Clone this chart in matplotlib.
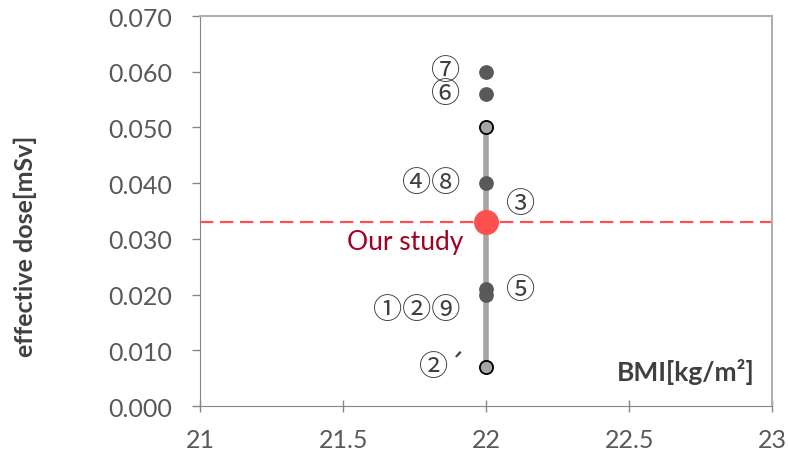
import matplotlib.pyplot as plt

# reference studies (dark points) and range end points (light points)
study_x = [22, 22, 22, 22, 22]
study_dose = [0.060, 0.056, 0.040, 0.021, 0.020]
range_x = [22, 22]
range_dose = [0.007, 0.050]
our_x = 22
our_dose = 0.033

labels = ['⑦', '⑥', '④⑧', '③', '⑤', '①②⑨', '②´']
label_x = [21.91, 21.91, 21.91, 22.12, 22.12, 21.91, 21.93]
label_y = [0.0602, 0.0560, 0.0400, 0.0363, 0.0208, 0.0172, 0.0070]
label_ha = ['right', 'right', 'right', 'center', 'center', 'right', 'right']

xticks = [21, 21.5, 22, 22.5, 23]
yticks = [0.0, 0.01, 0.02, 0.03, 0.04, 0.05, 0.06, 0.07]

plt.rcParams['font.family'] = ['Lato', 'DejaVu Sans']
tick_col = '#595959'

fig = plt.figure(figsize=(7.88, 4.6), dpi=100)
ax = fig.add_axes([0.254, 0.115, 0.726, 0.848])

ax.axhline(our_dose, color='#ff5050', lw=1.6, ls=(0, (6, 3)), zorder=1)
ax.plot(range_x, range_dose, color='#a6a6a6', lw=4, zorder=2)
ax.scatter(study_x, study_dose, s=92, color='#595959', zorder=3)
ax.scatter(range_x, range_dose, s=90, color='#a6a6a6', edgecolor='black', linewidth=1.3, zorder=4)
ax.scatter([our_x], [our_dose], s=290, color='#ff5050', zorder=5)

for t, x, y, ha in zip(labels, label_x, label_y, label_ha):
    ax.text(x, y, t, ha=ha, va='center', fontsize=21, color='#404040',
            family=['Noto Sans CJK JP', 'DejaVu Sans'])

ax.text(21.92, 0.0296, 'Our study', ha='right', va='center', fontsize=19, color='#a50021')
ax.text(22.94, 0.0063, 'BMI[kg/m²]', ha='right', va='center', fontsize=19,
        fontweight='bold', color='#404040')

ax.set_xlim(21, 23)
ax.set_ylim(0, 0.07)
ax.set_xticks(xticks)
ax.set_xticklabels(['21', '21.5', '22', '22.5', '23'])
ax.set_yticks(yticks)
ax.set_yticklabels([f'{v:.3f}' for v in yticks])
ax.tick_params(axis='y', direction='out', length=6, width=1, color='#868686',
               labelsize=18, labelcolor=tick_col, pad=14)
ax.tick_params(axis='x', direction='inout', length=8, width=1, color='#868686',
               labelsize=18, labelcolor=tick_col, pad=12)

fig.text(25 / 788, 0.465, 'effective dose[mSv]', rotation=90, ha='center', va='center',
         fontsize=18, fontweight='bold', color='#404040')

for side in ['left', 'bottom']:
    ax.spines[side].set_color('#868686')
for side in ['top', 'right']:
    ax.spines[side].set_color('#b0b0b0')
    ax.spines[side].set_linewidth(1.5)

fig.savefig('out.png', dpi=100)
